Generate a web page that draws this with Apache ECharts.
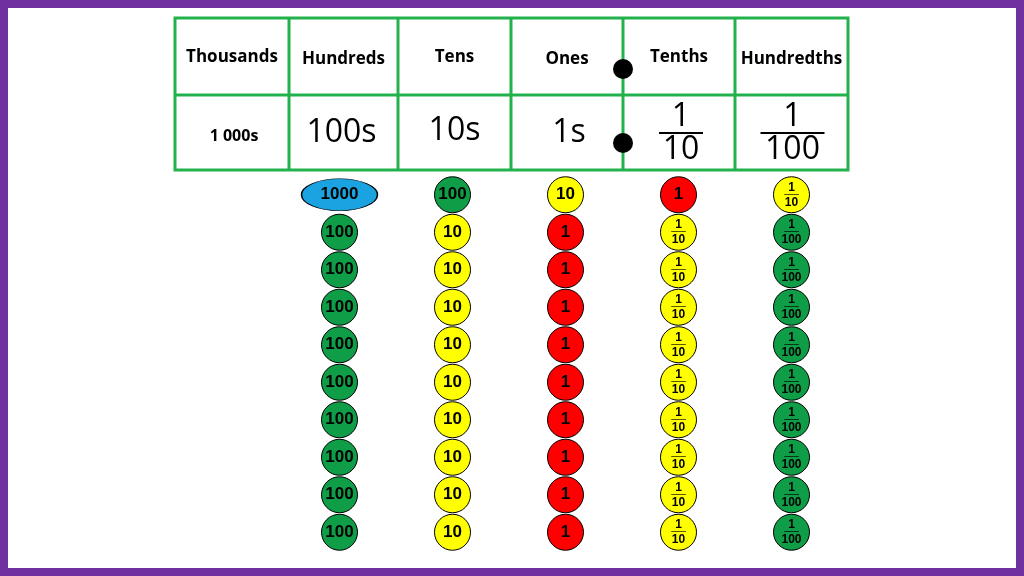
<!DOCTYPE html>
<html><head><meta charset="utf-8">
<script src="https://cdn.jsdelivr.net/npm/echarts@6/dist/echarts.min.js"></script>
<style>html,body{margin:0;padding:0;background:#fff}#c{width:1024px;height:576px}</style>
</head><body><div id="c"></div>
<script>
const headers = ['Thousands','Hundreds','Tens','Ones','Tenths','Hundredths'];
const unitLabels = ['1 000s','100s','10s','1s','1/10','1/100'];
const counterColumns = ['c1','c2','c3','c4','c5'];
const topCounters = ['1000','100','10','1','1/10'];
const restCounters = ['100','10','1','1/10','1/100'];
const rowsPerColumn = 10;
const counterColor = {'1000':'#1aa3e0','100':'#0f9d47','10':'#ffff00','1':'#ff0000','1/10':'#ffff00','1/100':'#0f9d47'};

const data = [];
counterColumns.forEach((c,i)=>{
  for(let r=1;r<=rowsPerColumn;r++){
    const v = r===1 ? topCounters[i] : restCounters[i];
    data.push({name:v, value:[c,r]});
  }
});

function fmt(v){
  if(v.indexOf('/')>0){ const p=v.split('/'); return '{n|'+p[0]+'}\n{l|\u2500\u2500\u2500}\n{d|'+p[1]+'}'; }
  return '{b|'+v+'}';
}

const colX = [175,289,398,511,623,735,848];
const tTop=18, tMid=95, tBot=170;
const g = [];
g.push({type:'rect',shape:{x:4,y:4,width:1016,height:568},style:{fill:'none',stroke:'#7030a0',lineWidth:8}});
g.push({type:'rect',shape:{x:colX[0],y:tTop,width:colX[6]-colX[0],height:tBot-tTop},style:{fill:'none',stroke:'#22b14c',lineWidth:3}});
g.push({type:'line',shape:{x1:colX[0],y1:tMid,x2:colX[6],y2:tMid},style:{stroke:'#22b14c',lineWidth:3}});
for(let i=1;i<6;i++) g.push({type:'line',shape:{x1:colX[i],y1:tTop,x2:colX[i],y2:tBot},style:{stroke:'#22b14c',lineWidth:3}});
const hy=[57,59,57,59,57,59];
headers.forEach((h,i)=>{
  g.push({type:'text',x:(colX[i]+colX[i+1])/2,y:hy[i],style:{text:h,font:'bold 17px "Open Sans", sans-serif',fill:'#000',align:'center',verticalAlign:'middle'}});
});
unitLabels.forEach((u,i)=>{
  const cx=(colX[i]+colX[i+1])/2 - (i===0?6:0);
  if(i===0){
    g.push({type:'text',x:cx+8,y:136,style:{text:u,font:'bold 16px "Open Sans", sans-serif',fill:'#000',align:'center',verticalAlign:'middle'}});
  } else if(u.indexOf('/')>0){
    const p=u.split('/'); const x=(colX[i]+colX[i+1])/2 + (i===4?2:1);
    g.push({type:'text',x:x,y:117,style:{text:p[0],font:'32px "Open Sans", sans-serif',fill:'#000',align:'center',verticalAlign:'middle'}});
    g.push({type:'line',shape:{x1:x-p[1].length*10-2,y1:133,x2:x+p[1].length*10+2,y2:133},style:{stroke:'#000',lineWidth:2}});
    g.push({type:'text',x:x,y:150,style:{text:p[1],font:'32px "Open Sans", sans-serif',fill:'#000',align:'center',verticalAlign:'middle'}});
  } else {
    const ys=[0,133,131,133][i];
    g.push({type:'text',x:cx+(i===1?-2:i===3?2:0),y:ys,style:{text:u,font:'32px "Open Sans", sans-serif',fill:'#000',align:'center',verticalAlign:'middle'}});
  }
});
g.push({type:'circle',shape:{cx:623,cy:69,r:10},style:{fill:'#000'}});
g.push({type:'circle',shape:{cx:623,cy:143,r:10},style:{fill:'#000'}});

const chart = echarts.init(document.getElementById('c'));
chart.setOption({
  animation:false,
  grid:{left:283,width:565,top:176,height:375},
  xAxis:{type:'category',data:counterColumns,show:false},
  yAxis:{type:'value',min:0.5,max:10.5,inverse:true,show:false},
  graphic:g,
  series:[{type:'scatter',data:data.map(d=>({
      value:d.value,symbol:'circle',symbolSize:d.name==='1000'?[76,32]:36,
      itemStyle:{color:counterColor[d.name],opacity:1,borderColor:'#000',borderWidth:1}})),
    label:{show:true,position:'inside',
      formatter:p=>fmt(data[p.dataIndex].name),
      rich:{
        b:{fontFamily:'Arial, "Liberation Sans"',fontWeight:'bold',fontSize:17,color:'#000'},
        n:{fontFamily:'Arial, "Liberation Sans"',fontWeight:'bold',fontSize:12,color:'#000',lineHeight:11,align:'center'},
        l:{fontFamily:'"DejaVu Sans"',fontWeight:'bold',fontSize:8,color:'#000',lineHeight:4,align:'center'},
        d:{fontFamily:'Arial, "Liberation Sans"',fontWeight:'bold',fontSize:12,color:'#000',lineHeight:11,align:'center'}
      }}
  }]
});
</script></body></html>
